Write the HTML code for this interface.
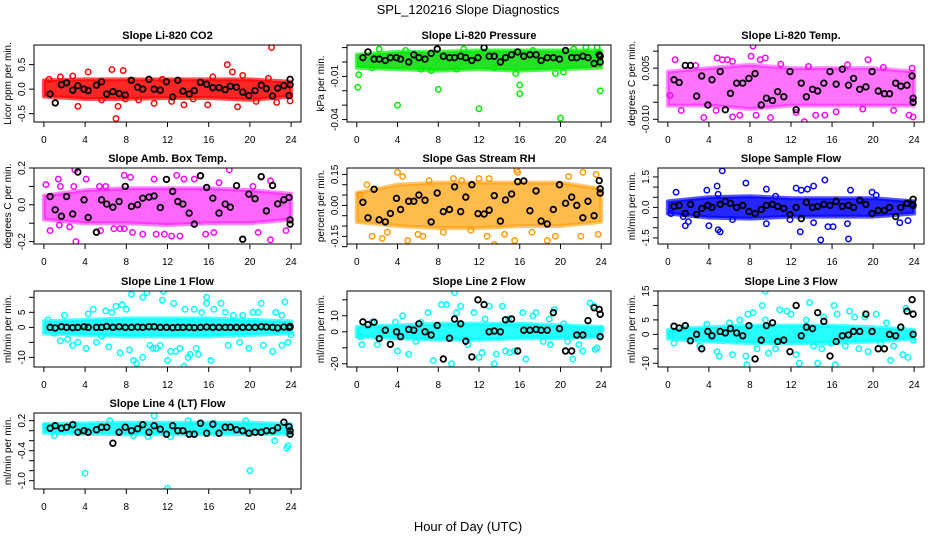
<!DOCTYPE html>
<html><head><meta charset="utf-8"><title>SPL_120216 Slope Diagnostics</title>
<style>
html,body{margin:0;padding:0;background:#fff;}
svg{display:block;font-family:"Liberation Sans",Arial,sans-serif;}
</style></head>
<body>
<svg id="chart" width="936" height="540" viewBox="0 0 936 540" xmlns="http://www.w3.org/2000/svg">
<rect x="0" y="0" width="936" height="540" fill="#fff"/>
<text x="468" y="14" text-anchor="middle" font-size="13">SPL_120216  Slope Diagnostics</text>
<text x="468" y="531" text-anchor="middle" font-size="13">Hour of Day (UTC)</text>
</svg>
<script>
// ---- shared data ----
const xTicks = [0,4,8,12,16,20,24];
const bandHours = [0,4,8,12,16,20,24];
const blkHours = [0.6,1.1,1.7,2.2,2.8,3.3,3.9,4.3,5.1,5.6,6.1,6.7,7.3,7.9,8.5,9.1,9.6,10.2,10.7,11.3,11.9,12.5,13.0,13.5,14.1,14.6,15.2,15.8,16.4,17.0,17.6,18.1,18.7,19.3,19.9,20.5,21.1,21.6,22.2,22.7,23.3,23.8,23.9,23.9];

// CO2
const co2Blk = [-0.1,-0.28,0.09,0.13,-0.02,0.07,0.0,-0.03,0.08,0.15,-0.1,-0.05,-0.09,-0.12,0.18,0.04,0.0,0.2,0.0,-0.02,0.15,-0.16,0.18,-0.04,-0.1,-0.03,0.14,0.1,0.03,0.03,-0.01,0.06,0.04,-0.06,-0.13,-0.03,0.08,0.01,-0.14,0.02,0.07,-0.13,0.2,0.09];
const co2Hours = [22.1,7,7.2,3.3,4.3,6.6,7.7,17.8,18.3,13.6,15.9,10.7,19.3,12.4,22.6,23.9,0.5,2.8,5.6,9.2,18.8,20.6,14.5,1.6,8.4,11.5,16.4,21.8,7.9];
const co2Vals = [0.85,-0.6,-0.35,-0.35,0.35,0.4,0.38,0.5,0.35,-0.32,-0.32,-0.29,0.28,-0.25,-0.27,-0.24,0.2,0.27,-0.22,-0.22,-0.36,-0.25,-0.2,0.25,0.18,0.2,0.25,0.22,-0.2];
const co2Hi = [0.18,0.2,0.2,0.2,0.2,0.2,0.15];
const co2Lo = [-0.15,-0.2,-0.2,-0.18,-0.18,-0.22,-0.15];

// Pressure
const presBlk = [0.003,0.007,0.002,0.002,0.001,0.003,0.003,0.002,0.0,0.005,0.003,0.002,0.006,0.009,0.004,0.003,0.003,0.004,0.003,0.001,0.003,0.010,0.004,0.004,0.0,0.003,0.005,0.007,0.004,0.005,0.005,0.001,0.003,0.003,0.002,0.008,0.003,0.003,0.004,0.003,-0.001,0.005,0.0,0.004];
const presHours = [0.1,0.2,4,8,12,16,16,20,23.9,15.6,19.5,20.3,6.3,7.3,9.8,2.2,4.8,10.5,17.3,21.3,23.6,22.5,1.5,13.5];
const presVals = [-0.0176,-0.0088,-0.030,-0.019,-0.0325,-0.016,-0.022,-0.039,-0.020,-0.008,-0.008,-0.007,-0.005,-0.006,-0.005,0.009,0.008,0.009,0.008,0.009,0.010,0.010,-0.004,-0.004];
const presHi = [0.005,0.007,0.007,0.008,0.008,0.008,0.008];
const presLo = [-0.004,-0.005,-0.006,-0.005,-0.006,-0.005,-0.004];

// Li-820 Temp
const tempBlk = [0.0016,0.0008,0.0058,0.0058,-0.0032,0.0027,-0.0058,0.0016,0.004,-0.0072,-0.0024,0.0006,0.0006,0.002,0.0034,-0.0058,-0.0038,-0.0045,-0.0019,-0.0034,0.004,-0.0072,0.0006,-0.0034,-0.0012,-0.0017,0.0006,0.004,0.0003,0.0047,0.0,0.002,-0.0012,-0.0005,0.004,-0.0017,-0.0025,-0.0025,0.0006,-0.0003,0.0,0.0027,-0.0038,-0.005];
const tempHours = [8.3,9.5,0.7,4.8,5.3,5.8,6.3,8.1,9.0,19.5,23.8,13.3,10.0,3.5,6.3,7.0,8.6,14.4,15.3,16.4,23.9,23.5,1.3,4.7,12.5,22.0,2.7,13.7,21.0,0.2,11.0,17.5,19.0];
const tempVals = [0.0115,0.008,0.0075,0.008,0.0075,0.0075,0.007,0.0085,0.0075,0.0075,0.005,-0.0107,-0.0095,-0.0095,-0.0093,-0.0088,-0.0088,-0.0088,-0.0088,-0.0078,-0.0093,-0.0088,-0.0074,-0.0074,-0.008,-0.0074,0.0058,0.0055,0.0052,-0.003,0.0062,0.006,-0.007];
const tempHi = [0.004,0.005,0.006,0.005,0.005,0.005,0.004];
const tempLo = [-0.006,-0.006,-0.007,-0.006,-0.006,-0.006,-0.006];

// Amb Box Temp
const ambBlk = [0.045,-0.027,-0.062,0.045,-0.05,0.178,0.027,-0.069,-0.149,0.027,0.004,-0.013,0.018,0.1,-0.009,0.0,0.036,0.042,0.048,-0.015,0.138,0.073,0.018,0.004,-0.045,-0.105,0.158,0.094,0.036,-0.045,0.004,-0.013,0.104,-0.187,0.058,0.033,0.153,-0.033,0.105,0.005,0.027,0.04,-0.082,-0.105];
const ambHours = [3.1,3.0,18,22,0.2,0.6,2.9,4.1,5.5,6.8,7.4,7.8,8.6,9.6,10.9,11.7,12.4,13.2,15.7,16.5,20.8,23.5,5.4,6.0,7.8,8.4,10.7,12.9,13.6,14.6,17.0,20.3,22.0,1.4,1.6,1.5,2.5];
const ambVals = [-0.2,0.19,0.19,-0.19,0.11,-0.14,0.1,0.14,-0.14,-0.13,-0.13,-0.13,-0.15,-0.16,-0.16,-0.16,-0.17,-0.17,-0.16,-0.15,-0.15,-0.14,0.1,0.1,0.16,0.15,0.14,0.16,0.14,0.14,0.12,0.1,0.13,0.14,0.1,-0.11,-0.12];
const ambHi = [0.05,0.08,0.09,0.09,0.09,0.08,0.06];
const ambLo = [-0.08,-0.1,-0.1,-0.11,-0.1,-0.1,-0.08];

// Gas Stream RH
const rhBlk = [0.015,-0.06,0.078,-0.07,-0.08,-0.039,0.034,-0.02,0.02,0.02,0.05,0.025,-0.08,0.06,-0.03,-0.02,0.09,-0.03,0.04,0.1,-0.04,-0.042,-0.023,0.047,-0.076,0.026,0.055,0.115,0.118,-0.026,0.07,-0.076,-0.09,-0.02,0.1,0.01,0.04,0.0,-0.06,0.02,-0.05,0.12,0.08,0.06];
const rhHours = [4,4.5,2.5,1.5,3,5,6,6.5,12.8,13.5,14.5,15.5,15.7,15.8,18.7,19.5,22,23.7,22.2,23.5,20.8,12,13,10.3,0.3,1.0,8.5,9.5,17.2,11.2,7.1];
const rhVals = [0.16,0.14,-0.16,-0.15,-0.13,-0.17,-0.14,-0.15,-0.15,-0.19,-0.14,-0.17,0.17,0.16,-0.17,-0.15,-0.15,-0.14,0.16,0.15,0.14,0.13,0.13,0.12,0.05,0.1,-0.13,0.13,-0.13,-0.12,0.12];
const rhHi = [0.06,0.1,0.11,0.11,0.11,0.11,0.08];
const rhLo = [-0.08,-0.1,-0.11,-0.11,-0.1,-0.1,-0.08];

// Sample Flow
const sampBlk = [0.05,0.1,-0.3,0.15,-0.35,-0.05,0.1,0.0,0.15,0.3,0.2,0.0,0.1,-0.2,-0.3,-0.1,0.1,0.15,0.05,-0.05,-0.35,0.0,-0.55,0.25,0.0,0.05,0.15,0.1,0.3,0.05,0.1,0.0,0.35,0.15,-0.3,-0.15,-0.15,0.0,-0.45,0.0,0.2,0.15,0.1,0.4];
const sampHours = [5.3,15.3,0.8,3.8,4.8,4.9,7.6,9.6,12.5,13.0,13.6,14.2,17.8,19.9,1.7,2.0,4.0,4.9,5.1,9.6,12.9,14.9,17.6,17.5,14.2,15.6,16.1,6.3,11.9,22.6,23.4,1.5,0.3,20.3,10.5];
const sampVals = [1.8,1.35,0.75,0.85,1.05,0.65,1.2,0.9,0.95,0.85,0.9,1.05,0.85,0.75,-0.9,-0.7,-0.9,-1.1,-1.2,-0.8,-1.2,-1.6,-1.55,-0.8,-0.75,-0.95,-0.95,-0.6,-0.6,-0.75,-0.65,-0.45,-0.3,0.6,0.55];
const sampHi = [0.3,0.5,0.55,0.45,0.45,0.45,0.3];
const sampLo = [-0.3,-0.5,-0.55,-0.45,-0.45,-0.45,-0.3];

// Line 1 Flow
const l1Blk = [0,-0.2,0.2,0,-0.1,0,0.2,0,0,0,0.3,0,0.2,0,0,0.1,0,0.2,0.2,0,0,-0.1,0,0,0,-0.1,0,0.1,0,0,0,0,0,0,0,0,0.2,0.1,0,-0.2,0.1,0,0.1,0.3];
const l1Hours = [0.4,1.0,1.6,2.0,2.3,2.8,3.3,4.1,4.3,4.8,5.1,5.6,6.0,6.3,6.6,7.0,7.4,7.6,8.0,8.3,8.5,8.7,9.0,9.6,9.6,10.0,10.3,10.6,10.9,11.3,11.6,11.5,12.0,12.3,12.6,12.8,13.2,13.6,13.7,14.0,14.2,14.6,14.8,15.0,15.3,15.8,15.8,16.2,16.5,17.2,17.6,17.9,18.4,19.0,19.3,19.9,20.3,21.1,21.3,22.2,22.5,23.1,23.4,23.7,24.0,23.1,20.8];
const l1Vals = [2.5,-2,-4.5,4,-4,-6,-5,-7,4.5,6,-5,-3,5.5,-6.5,5,7,-8.5,7.5,6,-7.5,11,-11,-12,10,-10,11.5,-6,-7,-7,-6,12,9,-11,-8,8,-8,-7,-13,6,-10,-9,6,-7,-9,5,10,8,-11,6,8,5,-6,4,-5,4,-7,5,8,-6,-8,5,-6,8.5,-5,-2.5,4,5];
const l1Hi = [2,2.5,3,3,3,2.5,2];
const l1Lo = [-2,-2.5,-3,-3,-3,-2.5,-2];

// Line 2 Flow
const l2Blk = [6.2,4.5,6,-4.2,1,-7.8,0,-3,1.5,1,5,0,-2,4,-17,-4,8,5,-5.9,-15.7,20,17,0,0.5,0,7.5,8,-12,1,1,1.5,1,1,12,2,-12,-12,-2,-2,7,15,14,11,-3];
const l2Hours = [0.3,0.5,1.5,2.0,3.3,4.0,4.5,5.1,6.3,7,7.5,8.3,8.8,9.3,9.6,9.8,10.2,10.9,11.5,12.0,12.3,13.0,13.5,13.7,14.3,14.6,15.0,15.5,16.3,16.6,17.3,17.6,18.3,19.0,19.4,20.3,20.7,21.2,21.8,22.2,22.9,23.4,23.6,23.3,24.0,5.8,6.8,3.8,12.6,14.9,18.9];
const l2Vals = [-3,-8,6,-8,-8,-12,10,-14,6,12,-18,17,17,-20,24.5,12,16,-8,12,-16,-13,16,-20,-14,16,-12,-13,-12,12,-17,10,12,-6,-8,14,5,-6,-17,-8,-12,18,-11,-10,16,2,-6,-3,6,8,8,8];
const l2Hi = [3,4,5,5,5,4,3];
const l2Lo = [-3,-4,-5,-5,-4,-4,-3];

// Line 3 Flow
const l3Blk = [2.8,2.2,3,-2.2,0,-5,1,-0.5,1,0.5,2,0.5,-0.5,3,-8.5,-2,3,4,-2.5,-2,-6,10,-0.5,2.5,2,7.5,4.5,-7.5,-2.5,-0.5,-0.2,1,1,7,1,-5,-5,0,-0.5,2.5,8,12,7,0];
const l3Hours = [0.3,0.6,1.9,3.1,3.8,4.8,5.0,6.0,6.3,7.0,7.6,7.8,7.7,8.3,8.7,9.2,9.5,9.5,9.8,10.9,10.5,11.6,12.0,12.5,12.8,13.5,13.8,14.2,14.6,15.0,15.2,15.9,16.2,16.3,16.5,17.3,17.7,18.2,18.6,19.2,19.5,20.3,20.7,21.3,21.7,22.0,22.9,23.2,23.4,23.9,13.0,11.0];
const l3Vals = [0,-3,2,-4,3.5,-6,-7.5,4,-7,5,-7.5,7,-10.5,7.5,-5,10,15,5,-6.5,8.5,-5,8,7,-7,-10,5,11,-4,-10,-5,6,-3,10,-10.5,7,-4,8,6,-5,6,-6,7,-3,4,-9,-4,-7,9,-8,-2,-2,-2];
const l3Hi = [1.5,2.5,3,3,3,2.5,1.5];
const l3Lo = [-1.5,-2.5,-3,-3,-3,-2.5,-1.5];

// Line 4 (LT) Flow
const l4Blk = [0.05,0.1,0.05,0.07,0.12,-0.03,0.0,-0.03,0.02,0.07,0.07,-0.25,-0.03,0.07,0.0,0.04,0.12,-0.03,0.1,0.03,-0.07,0.1,0.0,0.0,-0.07,-0.07,0.15,-0.05,0.13,-0.05,0.07,0.07,0.02,0.0,-0.05,-0.03,-0.03,0.0,0.0,0.06,0.17,0.08,-0.07,0.0];
const l4Hours = [4,20,12,10.7,6.4,14,19.6,23.7,10.1,1,23.6,22.4,0.2,3.0,16.5,8.7,12.3,15.5];
const l4Vals = [-0.85,-0.8,-1.15,0.3,0.2,0.2,0.2,-0.3,-0.12,-0.1,-0.35,-0.2,0.1,0.12,0.15,-0.1,-0.12,0.1];
const l4Hi = [0.13,0.15,0.16,0.16,0.16,0.16,0.13];
const l4Lo = [-0.04,-0.06,-0.07,-0.07,-0.07,-0.07,-0.06];

// ---- layout (positions, not data) ----
const COLS = [[34,301],[347,611],[658,924]];
const ROWS = [[45,122],[168,244],[291,367],[413,489]];
const panels = [
 {id:'co2', title:'Slope Li-820 CO2', ylab:'Licor ppm per min.', c:0,r:0, ylim:[-0.67,0.9], ticks:[-0.5,0,0.5], labels:['-0.5','0.0','0.5'], color:'#ff0000', band:'#ff0000', bo:0.85, blk:co2Blk, h:co2Hours, v:co2Vals, hi:co2Hi, lo:co2Lo},
 {id:'pressure', title:'Slope Li-820 Pressure', ylab:'kPa per min.', c:1,r:0, ylim:[-0.0417,0.0118], ticks:[-0.04,-0.03,-0.02,-0.01,0,0.01], labels:['-0.04','','','-0.01','',''], color:'#00ee00', band:'#00dd00', bo:0.85, blk:presBlk, h:presHours, v:presVals, hi:presHi, lo:presLo},
 {id:'li820-temp', title:'Slope Li-820 Temp.', ylab:'degrees C per min.', c:2,r:0, ylim:[-0.0108,0.0118], ticks:[-0.01,-0.005,0,0.005,0.01], labels:['-0.010','','','0.005',''], color:'#ff00ff', band:'#ff00ff', bo:0.55, blk:tempBlk, h:tempHours, v:tempVals, hi:tempHi, lo:tempLo},
 {id:'amb-box-temp', title:'Slope Amb. Box Temp.', ylab:'degrees C per min.', c:0,r:1, ylim:[-0.213,0.2], ticks:[-0.2,-0.1,0,0.1,0.2], labels:['-0.2','','0.0','','0.2'], color:'#ff00ff', band:'#ff00ff', bo:0.6, blk:ambBlk, h:ambHours, v:ambVals, hi:ambHi, lo:ambLo},
 {id:'gas-stream-rh', title:'Slope Gas Stream RH', ylab:'percent per min.', c:1,r:1, ylim:[-0.187,0.181], ticks:[-0.2,-0.15,-0.1,-0.05,0,0.05,0.1,0.15], labels:['','-0.15','','','0.00','','','0.15'], color:'#ff9900', band:'#ffa000', bo:0.7, blk:rhBlk, h:rhHours, v:rhVals, hi:rhHi, lo:rhLo},
 {id:'sample-flow', title:'Slope Sample Flow', ylab:'ml/min per min.', c:2,r:1, ylim:[-1.80,1.94], ticks:[-1.5,-1,-0.5,0,0.5,1,1.5], labels:['-1.5','','','0.0','','','1.5'], color:'#0000ff', band:'#0000ff', bo:0.85, blk:sampBlk, h:sampHours, v:sampVals, hi:sampHi, lo:sampLo},
 {id:'line1-flow', title:'Slope Line 1 Flow', ylab:'ml/min per min.', c:0,r:2, ylim:[-13.2,12.1], ticks:[-10,-5,0,5,10], labels:['-10','','0','5',''], color:'#00ffff', band:'#00ffff', bo:0.85, blk:l1Blk, h:l1Hours, v:l1Vals, hi:l1Hi, lo:l1Lo},
 {id:'line2-flow', title:'Slope Line 2 Flow', ylab:'ml/min per min.', c:1,r:2, ylim:[-22,25.5], ticks:[-20,-10,0,10,20], labels:['-20','','0','10',''], color:'#00ffff', band:'#00ffff', bo:0.85, blk:l2Blk, h:l2Hours, v:l2Vals, hi:l2Hi, lo:l2Lo},
 {id:'line3-flow', title:'Slope Line 3 Flow', ylab:'ml/min per min.', c:2,r:2, ylim:[-11.3,15.0], ticks:[-10,-5,0,5,10,15], labels:['-10','','0','5','','15'], color:'#00ffff', band:'#00ffff', bo:0.85, blk:l3Blk, h:l3Hours, v:l3Vals, hi:l3Hi, lo:l3Lo},
 {id:'line4-flow', title:'Slope Line 4 (LT) Flow', ylab:'ml/min per min.', c:0,r:3, ylim:[-1.166,0.354], ticks:[-1,-0.8,-0.6,-0.4,-0.2,0,0.2], labels:['-1.0','','','-0.4','','','0.2'], color:'#00ffff', band:'#00ffff', bo:0.85, blk:l4Blk, h:l4Hours, v:l4Vals, hi:l4Hi, lo:l4Lo}
];

const NS = 'http://www.w3.org/2000/svg';
const svg = document.getElementById('chart');
function mk(tag, attrs, parent){
  const e = document.createElementNS(NS, tag);
  for (const k in attrs) e.setAttribute(k, attrs[k]);
  (parent||svg).appendChild(e);
  return e;
}

panels.forEach(p => {
  const [x0,x1] = COLS[p.c], [y0,y1] = ROWS[p.r];
  const xMin = -0.96, xMax = 24.96;
  const sx = h => x0 + (h - xMin) / (xMax - xMin) * (x1 - x0);
  const sy = v => y1 - (v - p.ylim[0]) / (p.ylim[1] - p.ylim[0]) * (y1 - y0);
  const g = mk('g', {});
  
  

  const clipId = 'clip-' + p.id;
  const cp = mk('clipPath', {id: clipId}, g);
  mk('rect', {x:x0, y:y0, width:x1-x0, height:y1-y0}, cp);
  const plot = mk('g', {'clip-path':'url(#' + clipId + ')'}, g);
  
  

  // dense band envelope
  let pts = bandHours.map((h,i) => sx(h) + ',' + sy(p.hi[i]));
  for (let i = bandHours.length - 1; i >= 0; i--) pts.push(sx(bandHours[i]) + ',' + sy(p.lo[i]));
  const band = mk('polygon', {points: pts.join(' '), fill: p.band, 'fill-opacity': p.bo, stroke: p.color, 'stroke-width': 4, 'stroke-linejoin':'round', 'stroke-opacity': p.bo * 0.8}, plot);
  
  

  // colored points
  p.h.forEach((h,i) => {
    const c = mk('circle', {cx: sx(h), cy: sy(p.v[i]), r: 2.7, fill: 'none', stroke: p.color, 'stroke-width': 1.5}, plot);
    
    
  });
  // black points
  blkHours.forEach((h,i) => {
    const c = mk('circle', {cx: sx(h), cy: sy(p.blk[i]), r: 2.8, fill: 'none', stroke: '#000', 'stroke-width': 1.8}, plot);
    
    
  });

  // box
  const box = mk('rect', {x:x0, y:y0, width:x1-x0, height:y1-y0, fill:'none', stroke:'#000', 'stroke-width':1}, g);
  
  

  // title
  const t = mk('text', {x:(x0+x1)/2, y:y0-6, 'text-anchor':'middle', 'font-size':11, 'font-weight':'bold'}, g);
  t.textContent = p.title;
  
  

  // x axis
  mk('line', {x1:sx(0), x2:sx(24), y1:y1, y2:y1, stroke:'#000'}, g);
  xTicks.forEach(h => {
    mk('line', {x1:sx(h), x2:sx(h), y1:y1, y2:y1+5, stroke:'#000'}, g);
    const l = mk('text', {x:sx(h), y:y1+21, 'text-anchor':'middle', 'font-size':10}, g);
    l.textContent = h;
    
    
  });

  // y axis
  const tv = p.ticks;
  mk('line', {x1:x0, x2:x0, y1:sy(tv[0]), y2:sy(tv[tv.length-1]), stroke:'#000'}, g);
  tv.forEach((v,i) => {
    mk('line', {x1:x0-5, x2:x0, y1:sy(v), y2:sy(v), stroke:'#000'}, g);
    if (p.labels[i]) {
      const ty = sy(v), tx = x0 - 9;
      const l = mk('text', {x:tx, y:ty, 'text-anchor':'middle', 'font-size':10, transform:'rotate(-90 ' + tx + ' ' + ty + ')'}, g);
      l.textContent = p.labels[i];
      
      
    }
  });
  const ly = (y0+y1)/2, lx = x0 - 23;
  const yl = mk('text', {x:lx, y:ly, 'text-anchor':'middle', 'font-size':10, transform:'rotate(-90 ' + lx + ' ' + ly + ')'}, g);
  yl.textContent = p.ylab;
  
  
});
</script>
</body></html>
